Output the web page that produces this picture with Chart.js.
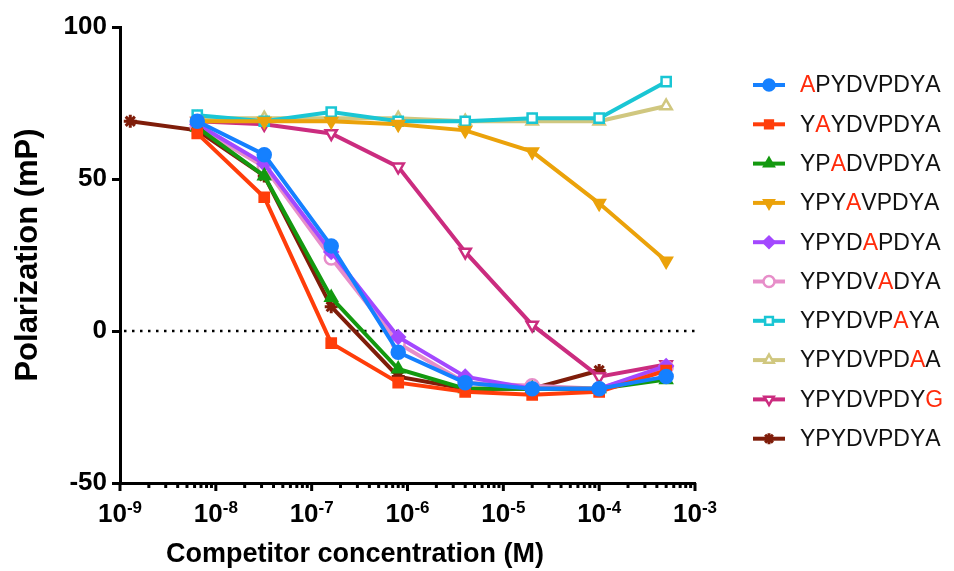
<!DOCTYPE html>
<html>
<head>
<meta charset="utf-8">
<script src="https://cdn.jsdelivr.net/npm/chart.js@4.4.0/dist/chart.umd.min.js"></script>
<style>
html, body { margin: 0; padding: 0; background: #fff; }
</style>
</head>
<body>
<canvas id="fpChart" width="954" height="571"></canvas>
<script>
// competitor concentrations (M), 5-fold dilutions
const concentrations = [1.28e-9, 6.4e-9, 3.2e-8, 1.6e-7, 8e-7, 4e-6, 2e-5, 1e-4, 5e-4];

const peptideNames = ['APYDVPDYA', 'YAYDVPDYA', 'YPADVPDYA', 'YPYAVPDYA', 'YPYDAPDYA',
                      'YPYDVADYA', 'YPYDVPAYA', 'YPYDVPDAA', 'YPYDVPDYG', 'YPYDVPDYA'];
// position of the substituted residue (red in the legend), -1 = wild type
const mutatedPos = [0, 1, 2, 3, 4, 5, 6, 7, 8, -1];

// polarization values (mP)
const apydvpdya = [null, 69, 58, 28, -7, -17, -19, -19, -15];
const yaydvpdya = [null, 65, 44, -4, -17, -20, -21, -20, -13];
const ypadvpdya = [null, 67, 51, 11, -12.5, -19, -19, -19, -16];
const ypyavpdya = [null, 69, 69, 69, 68, 66, 59, 42, 23];
const ypydapdya = [null, 68, 55, 26, -2, -15, -19, -19, -11.5];
const ypydvadya = [null, 67, 54, 24, -4, -17, -18, -19, -12];
const ypydvpaya = [null, 71, 69, 72, 69, 69, 70, 70, 82];
const ypydvpdaa = [null, 70, 70, 70, 70, 69, 69, 69, 74];
const ypydvpdyg = [null, 69, 68, 65, 54, 26, 2, -15, -11];
const ypydvpdya = [69, 66, 51, 8, -15, -19, -19, -13, null];

const seriesValues = [apydvpdya, yaydvpdya, ypadvpdya, ypyavpdya, ypydapdya,
                      ypydvadya, ypydvpaya, ypydvpdaa, ypydvpdyg, ypydvpdya];

const colors = ['#1580ff', '#ff3d0a', '#13990f', '#eba20a', '#a348ff',
                '#e78ec9', '#1ac6d4', '#d0c77f', '#cb2c7f', '#7f1d0a'];
const pointStyles = ['circle', 'rect', 'triangle', 'triangle', 'rectRot',
                     'circle', 'rect', 'triangle', 'triangle', 'star'];
const pointRotations = [0, 0, 0, 180, 0, 0, 0, 0, 180, 0];
const openMarker = [false, false, false, false, false, true, true, true, true, false];

const xTickExponents = [-9, -8, -7, -6, -5, -4, -3];
const yTicks = [-50, 0, 50, 100];

function toPoints(values) {
    return values.map((v, i) => ({ x: concentrations[i], y: v })).filter(p => p.y !== null);
}

const datasets = peptideNames.map((name, i) => ({
    label: name,
    data: toPoints(seriesValues[i]),
    borderColor: colors[i],
    backgroundColor: colors[i],
    borderWidth: 4,
    pointStyle: pointStyles[i],
    pointRotation: pointRotations[i],
    pointRadius: 6.5,
    pointBorderWidth: pointStyles[i] === 'star' ? 3 : 2.5,
    pointBackgroundColor: openMarker[i] ? '#ffffff' : colors[i],
    pointBorderColor: colors[i],
    tension: 0
}));

const extras = {
    id: 'extras',
    beforeDatasetsDraw(chart) {
        // dotted line at 0
        const ctx = chart.ctx, area = chart.chartArea;
        const y0 = chart.scales.y.getPixelForValue(0);
        ctx.save();
        ctx.strokeStyle = '#000';
        ctx.lineWidth = 2.5;
        ctx.setLineDash([2.5, 5.5]);
        ctx.beginPath();
        ctx.moveTo(area.left + 4, y0);
        ctx.lineTo(area.right, y0);
        ctx.stroke();
        ctx.restore();
    },
    afterDraw(chart) {
        const ctx = chart.ctx;
        const xs = chart.scales.x;
        const axisY = chart.chartArea.bottom;
        ctx.save();

        // log ticks, major and minor
        ctx.strokeStyle = '#000';
        ctx.lineWidth = 3;
        xTickExponents.forEach((e, k) => {
            for (let m = 1; m <= 9; m++) {
                if (k === xTickExponents.length - 1 && m > 1) break;
                const px = xs.getPixelForValue(m * Math.pow(10, e));
                const len = m === 1 ? 8 : 5;
                ctx.beginPath();
                ctx.moveTo(px, axisY);
                ctx.lineTo(px, axisY + len);
                ctx.stroke();
            }
        });

        // tick labels 10^n
        ctx.fillStyle = '#000';
        ctx.textBaseline = 'alphabetic';
        xTickExponents.forEach(e => {
            const px = xs.getPixelForValue(Math.pow(10, e));
            ctx.font = 'bold 26px "Liberation Sans", Arial, sans-serif';
            const baseW = ctx.measureText('10').width;
            ctx.font = 'bold 17px "Liberation Sans", Arial, sans-serif';
            const expW = ctx.measureText(String(e)).width;
            const start = px - (baseW + expW) / 2;
            ctx.font = 'bold 26px "Liberation Sans", Arial, sans-serif';
            ctx.textAlign = 'left';
            ctx.fillText('10', start, 522);
            ctx.font = 'bold 17px "Liberation Sans", Arial, sans-serif';
            ctx.fillText(String(e), start + baseW, 513);
        });

        // x title
        ctx.font = 'bold 27px "Liberation Sans", Arial, sans-serif';
        ctx.textAlign = 'center';
        ctx.fillText('Competitor concentration (M)', 355, 562);

        // legend
        const legendTop = 85, legendStep = 39.3;
        peptideNames.forEach((name, i) => {
            const y = legendTop + i * legendStep;
            ctx.strokeStyle = colors[i];
            ctx.lineWidth = 4;
            ctx.setLineDash([]);
            ctx.beginPath();
            ctx.moveTo(753, y);
            ctx.lineTo(785, y);
            ctx.stroke();
            ctx.fillStyle = openMarker[i] ? '#ffffff' : colors[i];
            ctx.lineWidth = pointStyles[i] === 'star' ? 3 : 2.5;
            Chart.helpers.drawPoint(ctx, {
                pointStyle: pointStyles[i],
                rotation: pointRotations[i],
                radius: 5.5,
                borderWidth: ctx.lineWidth
            }, 769, y);

            ctx.font = '23px "Liberation Sans", Arial, sans-serif';
            ctx.textAlign = 'left';
            ctx.textBaseline = 'middle';
            let tx = 800;
            for (let c = 0; c < name.length; c++) {
                ctx.fillStyle = c === mutatedPos[i] ? '#ff2a0a' : '#111';
                ctx.fillText(name[c], tx, y + 1);
                tx += ctx.measureText(name[c]).width;
            }
        });
        ctx.restore();
    }
};

new Chart(document.getElementById('fpChart').getContext('2d'), {
    type: 'line',
    data: { datasets: datasets },
    options: {
        responsive: false,
        animation: false,
        devicePixelRatio: 1,
        layout: { padding: { left: 0, right: 259, top: 27, bottom: 0 } },
        plugins: { legend: { display: false }, tooltip: { enabled: false } },
        scales: {
            x: {
                type: 'logarithmic',
                min: 1e-9,
                max: 1e-3,
                ticks: { display: false },
                grid: { display: false },
                border: { display: true, color: '#000', width: 3 },
                afterFit: scale => { scale.height = 88; }
            },
            y: {
                min: -50,
                max: 100,
                afterBuildTicks: scale => { scale.ticks = yTicks.map(v => ({ value: v })); },
                ticks: {
                    color: '#000',
                    font: { family: '"Liberation Sans", Arial, sans-serif', size: 26, weight: 'bold' },
                    padding: 5
                },
                grid: { drawOnChartArea: false, tickLength: 8, tickWidth: 3, tickColor: '#000' },
                border: { display: true, color: '#000', width: 3 },
                title: {
                    display: true,
                    text: 'Polarization (mP)',
                    color: '#000',
                    font: { family: '"Liberation Sans", Arial, sans-serif', size: 31, weight: 'bold' },
                    padding: { top: 10, bottom: 0 }
                },
                afterFit: scale => { scale.width = 120; }
            }
        }
    },
    plugins: [extras]
});
</script>
</body>
</html>
